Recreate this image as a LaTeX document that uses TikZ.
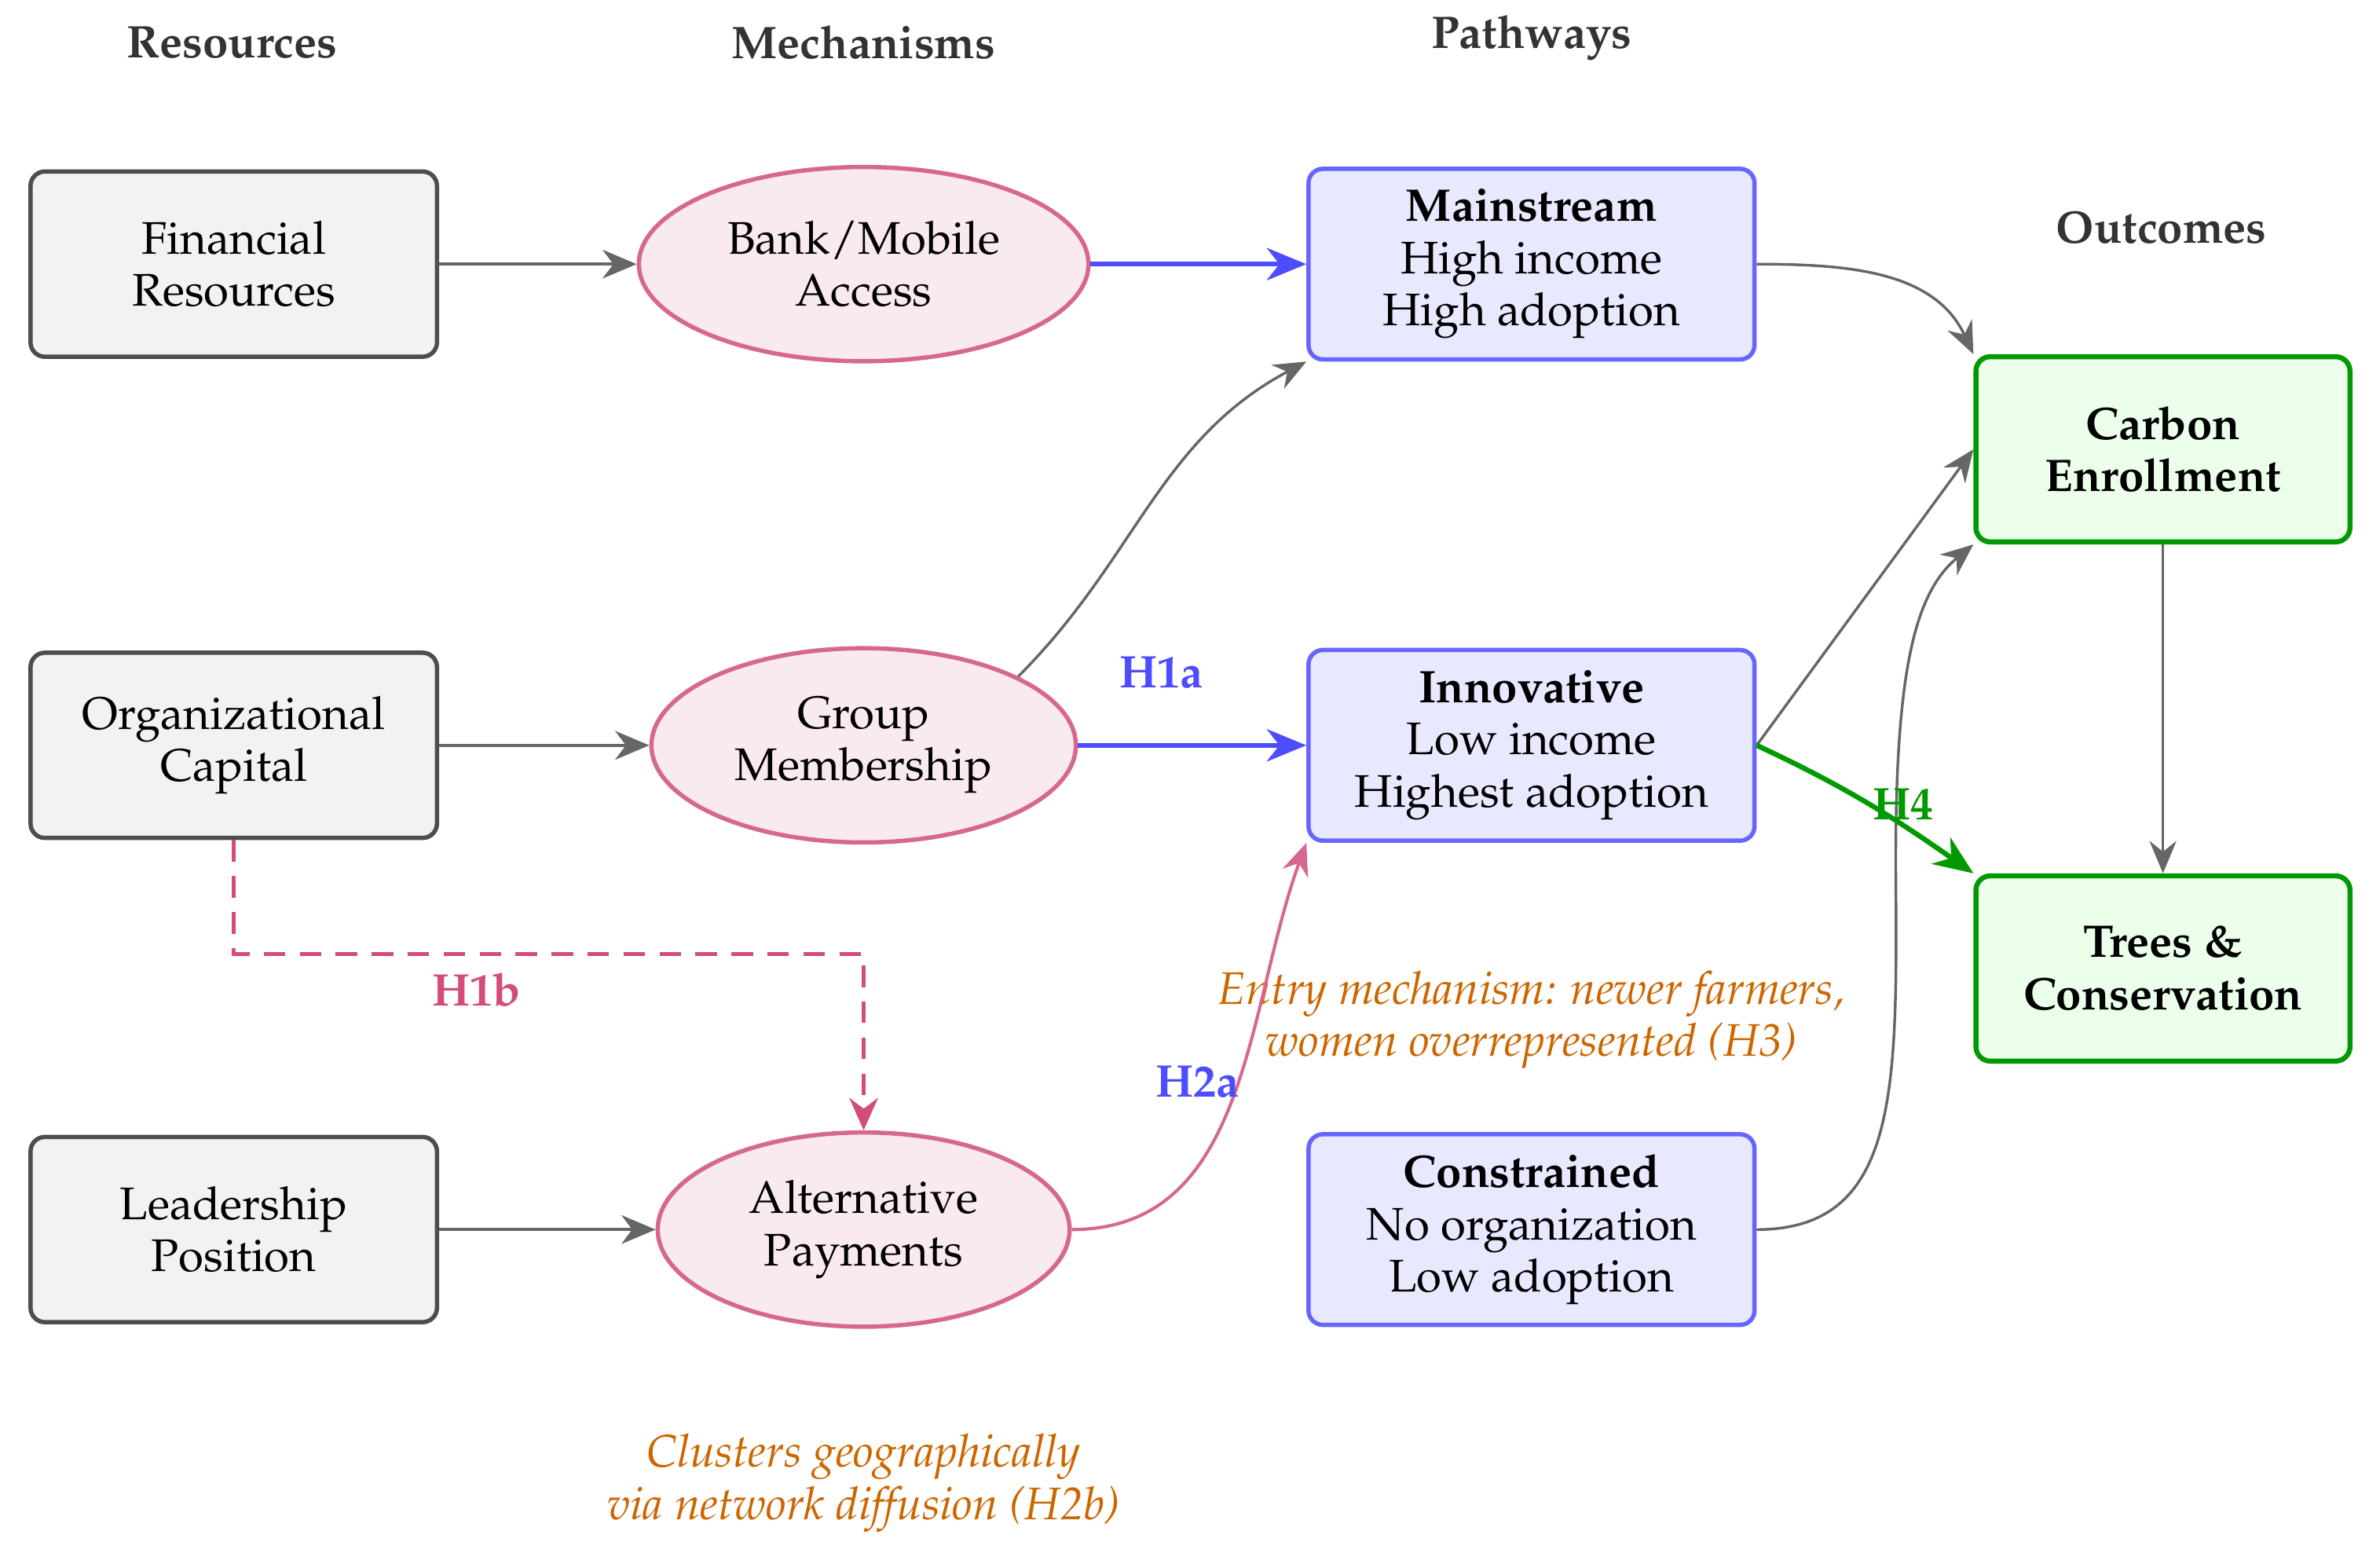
\documentclass[tikz,border=0pt]{standalone}
\usepackage[T1]{fontenc}
\usepackage{mathpazo}
\usetikzlibrary{arrows.meta,shapes.geometric}
\definecolor{resdraw}{RGB}{77,77,77}
\definecolor{resfill}{RGB}{242,242,242}
\definecolor{mechdraw}{RGB}{214,104,143}
\definecolor{mechfill}{RGB}{249,234,240}
\definecolor{dashpink}{RGB}{212,76,122}
\definecolor{pathdraw}{RGB}{102,102,255}
\definecolor{pathfill}{RGB}{232,232,255}
\definecolor{arrblue}{RGB}{77,77,255}
\definecolor{outdraw}{RGB}{0,153,0}
\definecolor{outfill}{RGB}{235,255,235}
\definecolor{arrgray}{RGB}{102,102,102}
\definecolor{hdr}{RGB}{51,51,51}
\definecolor{note}{RGB}{204,102,0}
\newcommand{\mysize}{\fontsize{12.7}{14.5}\selectfont}
\tikzset{
  resbox/.style={draw=resdraw, fill=resfill, line width=1.2pt, rounded corners=4pt,
    minimum width=113pt, minimum height=51.5pt, align=center, font=\mysize},
  mechell/.style={ellipse, draw=mechdraw, fill=mechfill, line width=1.2pt,
    minimum height=54pt, align=center, inner sep=0pt, font=\mysize},
  pathbox/.style={draw=pathdraw, fill=pathfill, line width=1.2pt, rounded corners=4pt,
    minimum width=124pt, minimum height=53pt, align=center, font=\mysize},
  outbox/.style={draw=outdraw, fill=outfill, line width=1.4pt, rounded corners=4pt,
    minimum width=104pt, minimum height=51.5pt, align=center, font=\mysize\bfseries},
  header/.style={text=hdr, font=\mysize\bfseries},
  hlabel/.style={font=\mysize\bfseries},
  notetext/.style={text=note, align=center, font=\mysize\itshape},
  grayarr/.style={draw=arrgray, line width=0.9pt, -{Stealth[length=9.5pt,width=8pt,inset=3pt]}},
  thinarr/.style={draw=arrgray, line width=0.75pt, -{Stealth[length=9pt,width=7.5pt,inset=3pt]}},
  bluearr/.style={draw=arrblue, line width=1.4pt, -{Stealth[length=11pt,width=9pt,inset=3.5pt]}},
  greenarr/.style={draw=outdraw, line width=1.4pt, -{Stealth[length=11pt,width=9pt,inset=3.5pt]}},
  pinkarr/.style={draw=mechdraw, line width=0.9pt, -{Stealth[length=9pt,width=7.5pt,inset=3pt]}},
  dasharr/.style={draw=dashpink, line width=1.2pt, dash pattern=on 6pt off 4pt, -{Stealth[length=9pt,width=8pt,inset=3pt]}},
}
\begin{document}
\begin{tikzpicture}[x=0.422pt,y=-0.422pt]
\useasboundingbox (0,0) rectangle (1568,1023);
% headers
\node[header] (hres) at (153,28) {Resources};
\node[header] (hmech) at (569,28) {Mechanisms};
\node[header] (hpath) at (1009,25) {Pathways};
\node[header] (hout) at (1424,150) {Outcomes};
% resources
\node[resbox] (fin) at (154,174) {Financial\\Resources};
\node[resbox] (org) at (154,491) {Organizational\\Capital};
\node[resbox] (lead) at (154,810) {Leadership\\Position};
% mechanisms
\node[mechell, minimum width=125pt] (bank) at (569,174) {Bank/Mobile\\Access};
\node[mechell, minimum width=118pt] (group) at (569,491) {Group\\Membership};
\node[mechell, minimum width=114.5pt] (alt) at (569,810) {Alternative\\Payments};
% pathways
\node[pathbox] (main) at (1009,174) {\textbf{Mainstream}\\High income\\High adoption};
\node[pathbox] (inno) at (1009,491) {\textbf{Innovative}\\Low income\\Highest adoption};
\node[pathbox] (cons) at (1009,810) {\textbf{Constrained}\\No organization\\Low adoption};
% outcomes
\node[outbox] (carbon) at (1425,296) {Carbon\\Enrollment};
\node[outbox] (trees) at (1425,638) {Trees \&\\Conservation};
% notes
\node[notetext] (entry) at (1009,672) {Entry mechanism: newer farmers,\\women overrepresented (H3)};
\node[notetext] (clus) at (569,977) {Clusters geographically\\via network diffusion (H2b)};
% arrows
\draw[grayarr] (fin) -- (bank);
\draw[grayarr] (org) -- (group);
\draw[grayarr] (lead) -- (alt);
\draw[bluearr] (bank) -- (main);
\draw[bluearr] (group) -- (inno);
\draw[dasharr] (org.south) -- ++(0,75) -| (alt.north);
\draw[thinarr] (group.24) to[out=45,in=208] (main.south west);
\draw[pinkarr] (alt.east) to[out=0,in=250] (inno.south west);
\draw[thinarr] (main.east) to[out=0,in=115] (carbon.north west);
\draw[thinarr] (inno.east) -- (carbon.west);
\draw[thinarr] (cons.east) .. controls (1250,810) and (1250,720) .. (1249,580)
  .. controls (1248,440) and (1262,390) .. (carbon.south west);
\draw[greenarr] (inno.east) to[out=-25,in=145] (trees.north west);
\draw[thinarr] (carbon) -- (trees);
% labels
\node[hlabel, text=arrblue] (h1a) at (765,443) {H1a};
\node[hlabel, text=dashpink] (h1b) at (314,652) {H1b};
\node[hlabel, text=arrblue] (h2a) at (789,713) {H2a};
\node[hlabel, text=outdraw] (h4) at (1254,530) {H4};
\end{tikzpicture}
\end{document}
